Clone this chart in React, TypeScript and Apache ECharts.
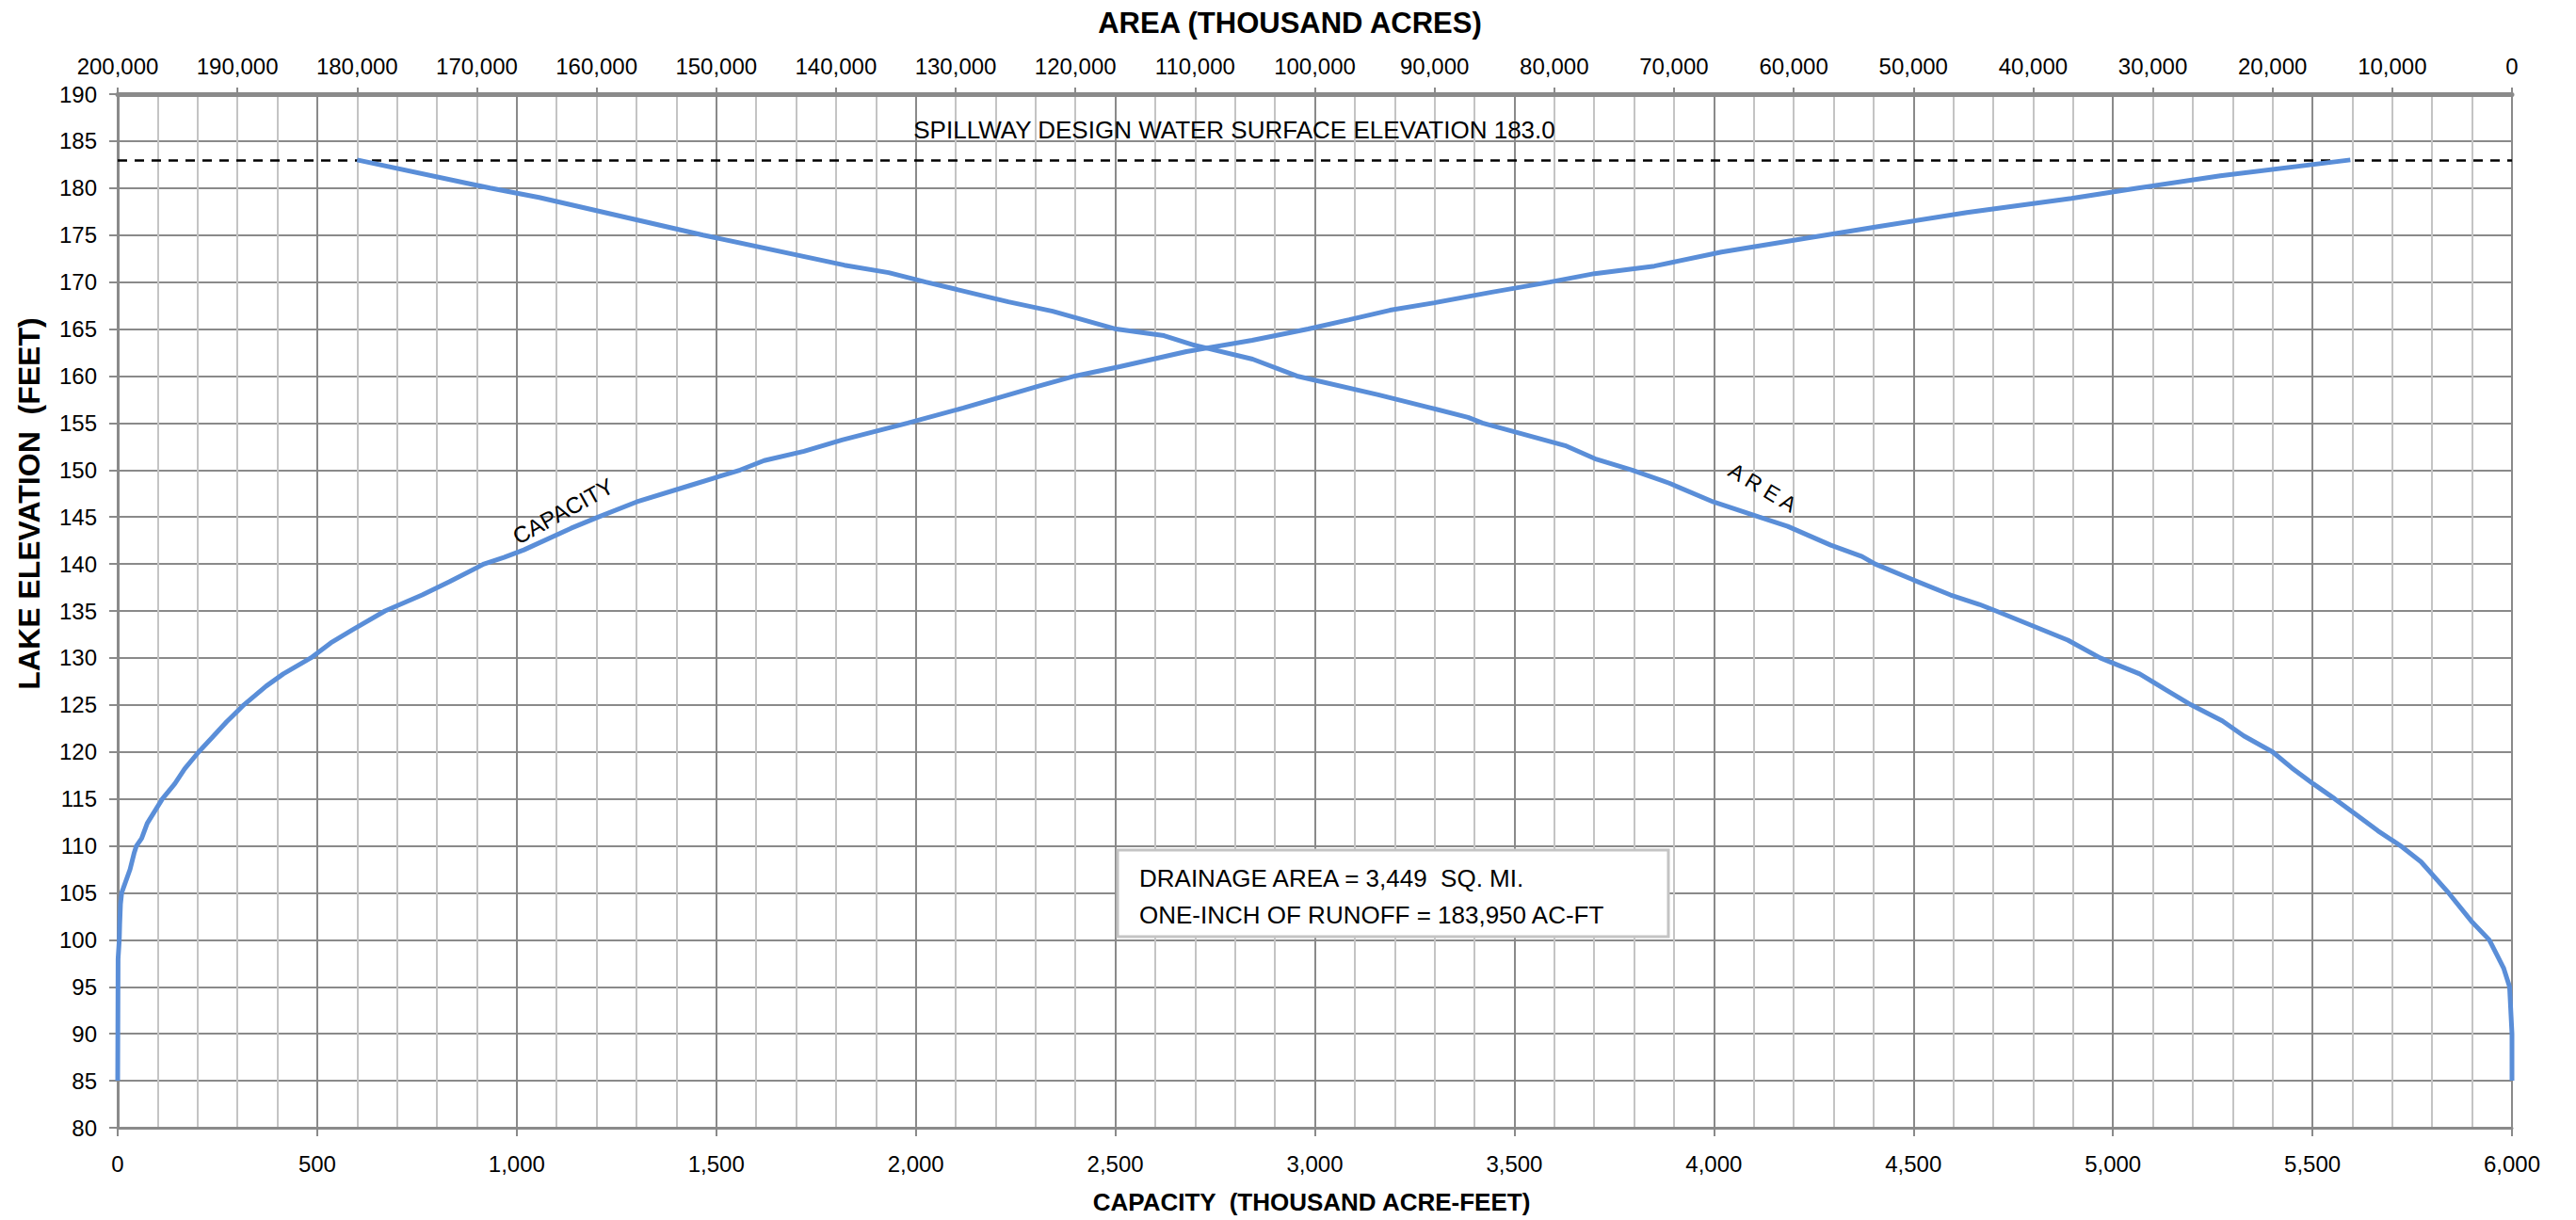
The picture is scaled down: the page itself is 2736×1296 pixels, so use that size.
import React, { useEffect, useRef } from "react";
import * as echarts from "echarts";

// ---- DATA ----
const capacityElevations = [85, 98, 100, 101.6, 103.8, 105, 107.5, 109.2, 110, 110.8, 112.4, 115, 116.6, 118.2, 120, 121.5, 123.2, 125, 127, 128.3, 130, 131.6, 133, 135, 136.7, 138.1, 140, 140.7, 141.5, 143.8, 145, 146.6, 148.3, 150, 151, 152, 153.2, 155, 156.6, 158.9, 160, 161, 162.6, 163.8, 165, 166, 167, 167.8, 168.9, 170, 170.9, 171.7, 173.2, 175, 175.9, 177.4, 178.9, 180, 181.3, 183];
const capacityValues = [0, 1, 4, 5, 7, 10, 31, 41, 47, 60, 74, 112, 143, 168, 203, 236, 273, 316, 372, 415, 484, 534, 589, 670, 763, 831, 918, 968, 1018, 1136, 1205, 1300, 1430, 1560, 1620, 1720, 1815, 1980, 2119, 2306, 2399, 2511, 2678, 2843, 2983, 3086, 3188, 3300, 3440, 3589, 3701, 3851, 4019, 4280, 4411, 4634, 4896, 5063, 5269, 5595];

const areaElevations = [183, 180, 179, 175, 171.8, 171, 170, 167.9, 166.9, 165, 164.3, 163.3, 161.8, 160, 158, 156.6, 155.6, 155, 152.6, 151.2, 150, 148.6, 146.6, 145, 144, 142, 140.8, 140, 138.3, 136.7, 135.7, 135, 133.5, 131.9, 130, 128.3, 126.6, 125, 123.3, 121.7, 120, 118.3, 116.6, 115, 113.3, 111.6, 110, 108.3, 105, 102, 100, 97, 95, 90, 85];
const areaValues = [180000, 168900, 164800, 151100, 139300, 135600, 132500, 125600, 121900, 116600, 112600, 110100, 105200, 101500, 94700, 90300, 87200, 86000, 79100, 76600, 73500, 70400, 66700, 62900, 60500, 56900, 54300, 53200, 50000, 46900, 44500, 43100, 40200, 37100, 34400, 31100, 28900, 26800, 24200, 22400, 20000, 18400, 16600, 14800, 13000, 11200, 9300, 7600, 5300, 3400, 1900, 700, 200, 0, 0];

const spillwayElevation = 183.0;
const capacityRange = [0, 6000];
const areaRange = [0, 200000];
const elevationRange = [80, 190];

const titleTop = "AREA (THOUSAND ACRES)";
const titleBottom = "CAPACITY  (THOUSAND ACRE-FEET)";
const titleLeft = "LAKE ELEVATION  (FEET)";
const spillwayText = "SPILLWAY DESIGN WATER SURFACE ELEVATION 183.0";
const noteLines = ["DRAINAGE AREA = 3,449  SQ. MI.", "ONE-INCH OF RUNOFF = 183,950 AC-FT"];

const FONT = "'Liberation Sans', Arial, sans-serif";
const LINE_COLOR = "#5a8ed8";
const MAJOR = "#8a8a8a";
const MINOR = "#c4c4c4";

const fmt = (v: number) => Math.round(v).toLocaleString("en-US");

export default function App() {
  const ref = useRef<HTMLDivElement>(null);
  useEffect(() => {
    if (!ref.current) return;
    const chart = echarts.init(ref.current, undefined, { renderer: "svg" });
    const capData = capacityValues.map((c, i) => [c, capacityElevations[i]]);
    const areaData = areaValues.map((a, i) => [a, areaElevations[i]]);
    const option: any = {
      animation: false,
      backgroundColor: "#ffffff",
      textStyle: { fontFamily: FONT },
      grid: {
        left: 125,
        right: 68,
        top: 100,
        bottom: 98,
        show: true,
        borderColor: MAJOR,
        borderWidth: 2,
      },
      xAxis: [
        {
          type: "value",
          position: "bottom",
          min: capacityRange[0],
          max: capacityRange[1],
          interval: 500,
          axisLine: { show: true, onZero: false, lineStyle: { color: MAJOR, width: 3 } },
          axisTick: { show: true, inside: false, length: 9, lineStyle: { color: MAJOR, width: 2 } },
          axisLabel: { fontSize: 24, color: "#000", fontFamily: FONT, margin: 26, formatter: fmt },
          splitLine: { show: true, lineStyle: { color: MAJOR, width: 2 } },
          minorTick: { show: false, splitNumber: 5 },
          minorSplitLine: { show: true, lineStyle: { color: MINOR, width: 2 } },
        },
        {
          type: "value",
          position: "top",
          inverse: true,
          min: areaRange[0],
          max: areaRange[1],
          interval: 10000,
          axisLine: { show: true, onZero: false, lineStyle: { color: MAJOR, width: 5 } },
          axisTick: { show: true, inside: false, length: 7, lineStyle: { color: MAJOR, width: 2 } },
          axisLabel: { fontSize: 24, color: "#000", fontFamily: FONT, margin: 18, formatter: fmt },
          splitLine: { show: false },
        },
      ],
      yAxis: [
        {
          type: "value",
          min: elevationRange[0],
          max: elevationRange[1],
          interval: 5,
          axisLine: { show: true, onZero: false, lineStyle: { color: MAJOR, width: 3 } },
          axisTick: { show: true, inside: false, length: 9, lineStyle: { color: MAJOR, width: 2 } },
          axisLabel: { fontSize: 24, color: "#000", fontFamily: FONT, margin: 22 },
          splitLine: { show: true, lineStyle: { color: MAJOR, width: 2 } },
        },
      ],
      series: [
        {
          name: "CAPACITY",
          type: "line",
          xAxisIndex: 0,
          yAxisIndex: 0,
          data: capData,
          showSymbol: false,
          symbol: "none",
          lineStyle: { color: LINE_COLOR, width: 5 },
          z: 5,
          markLine: {
            silent: true,
            symbol: "none",
            label: { show: false },
            lineStyle: { color: "#000", width: 2.5, type: [10, 8] },
            data: [{ yAxis: spillwayElevation }],
          },
        },
        {
          name: "AREA",
          type: "line",
          xAxisIndex: 1,
          yAxisIndex: 0,
          data: areaData,
          showSymbol: false,
          symbol: "none",
          lineStyle: { color: LINE_COLOR, width: 5 },
          z: 5,
        },
      ],
      graphic: [
        {
          type: "text",
          x: 1370,
          y: 24,
          style: { text: titleTop, font: `bold 31px ${FONT}`, fill: "#000", textAlign: "center", textVerticalAlign: "middle" },
        },
        {
          type: "text",
          x: 1393,
          y: 1277,
          style: { text: titleBottom, font: `bold 26px ${FONT}`, fill: "#000", textAlign: "center", textVerticalAlign: "middle" },
        },
        {
          type: "text",
          x: 31,
          y: 535,
          rotation: Math.PI / 2,
          style: { text: titleLeft, font: `bold 32px ${FONT}`, fill: "#000", textAlign: "center", textVerticalAlign: "middle" },
        },
        {
          type: "text",
          x: 1311,
          y: 138,
          z: 10,
          style: { text: spillwayText, font: `26px ${FONT}`, fill: "#000", textAlign: "center", textVerticalAlign: "middle" },
        },
        {
          type: "rect",
          shape: { x: 1187, y: 903, width: 585, height: 92 },
          z: 10,
          style: { fill: "#ffffff", stroke: "#c4c4c4", lineWidth: 3 },
        },
        {
          type: "text",
          x: 1210,
          y: 933,
          z: 11,
          style: { text: noteLines[0], font: `26px ${FONT}`, fill: "#000", textAlign: "left", textVerticalAlign: "middle" },
        },
        {
          type: "text",
          x: 1210,
          y: 972,
          z: 11,
          style: { text: noteLines[1], font: `26px ${FONT}`, fill: "#000", textAlign: "left", textVerticalAlign: "middle" },
        },
        {
          type: "text",
          x: 598,
          y: 543,
          z: 11,
          rotation: (29 * Math.PI) / 180,
          style: { text: "CAPACITY", font: `24px ${FONT}`, fill: "#000", textAlign: "center", textVerticalAlign: "middle" },
        },
        {
          type: "text",
          x: 1872,
          y: 518,
          z: 11,
          rotation: (-31 * Math.PI) / 180,
          style: { text: "A R E A", font: `23px ${FONT}`, fill: "#000", textAlign: "center", textVerticalAlign: "middle" },
        },
      ],
    };
    chart.setOption(option);
    return () => chart.dispose();
  }, []);
  return (
    <div
      ref={ref}
      style={{ position: "fixed", left: 0, top: 0, width: 2736, height: 1296, background: "#fff" }}
    />
  );
}
